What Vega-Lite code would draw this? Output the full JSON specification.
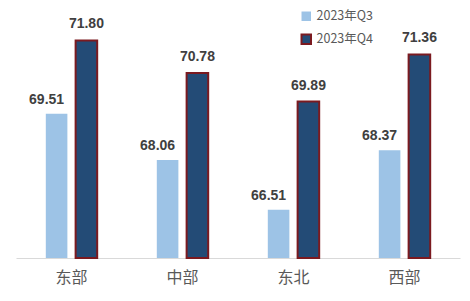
{
  "$schema": "https://vega.github.io/schema/vega-lite/v6.json",
  "width": 444,
  "height": 256,
  "padding": {"left": 16, "top": 2, "right": 10, "bottom": 6},
  "autosize": {"type": "pad"},
  "background": "white",
  "config": {"view": {"stroke": null}, "font": "Noto Sans CJK SC"},
  "data": {
    "values": [
      {"region": "东部", "series": "2023年Q3", "value": 69.51},
      {"region": "东部", "series": "2023年Q4", "value": 71.80},
      {"region": "中部", "series": "2023年Q3", "value": 68.06},
      {"region": "中部", "series": "2023年Q4", "value": 70.78},
      {"region": "东北", "series": "2023年Q3", "value": 66.51},
      {"region": "东北", "series": "2023年Q4", "value": 69.89},
      {"region": "西部", "series": "2023年Q3", "value": 68.37},
      {"region": "西部", "series": "2023年Q4", "value": 71.36}
    ]
  },
  "encoding": {
    "x": {
      "field": "region",
      "type": "nominal",
      "sort": ["东部", "中部", "东北", "西部"],
      "scale": {"paddingInner": 0, "paddingOuter": 0},
      "axis": {
        "title": null,
        "labelAngle": 0,
        "ticks": false,
        "grid": false,
        "domainColor": "#d9d9d9",
        "domainWidth": 1,
        "labelFontSize": 16,
        "labelColor": "#595959",
        "labelPadding": 11,
        "labelFont": "Noto Sans CJK SC"
      }
    },
    "xOffset": {
      "field": "series",
      "type": "nominal",
      "scale": {"paddingInner": 0.276, "paddingOuter": 1.052}
    },
    "y": {
      "field": "value",
      "type": "quantitative",
      "scale": {"domain": [65, 73], "zero": false, "nice": false},
      "axis": null
    }
  },
  "layer": [
    {
      "mark": {"type": "bar", "strokeWidth": 2},
      "encoding": {
        "y2": {"datum": 65},
        "fill": {
          "field": "series",
          "type": "nominal",
          "scale": {"range": ["#9dc3e6", "#234b76"]},
          "legend": {
            "title": null,
            "orient": "none",
            "legendX": 284,
            "legendY": 8,
            "symbolType": "square",
            "symbolSize": 90,
            "symbolStrokeWidth": 2,
            "labelFontSize": 12.5,
            "labelColor": "#595959",
            "labelFont": "Noto Sans CJK SC",
            "rowPadding": 5,
            "padding": 0,
            "labelOffset": 4
          }
        },
        "stroke": {
          "field": "series",
          "type": "nominal",
          "scale": {"range": ["rgba(0,0,0,0)", "#7b1a20"]}
        }
      }
    },
    {
      "transform": [{"filter": "datum.series === '2023年Q3'"}],
      "mark": {
        "type": "text",
        "dy": -7,
        "dx": -10,
        "baseline": "bottom",
        "fontSize": 14,
        "fontWeight": "bold",
        "font": "Liberation Sans",
        "color": "#404040"
      },
      "encoding": {"text": {"field": "value", "type": "quantitative", "format": ".2f"}}
    },
    {
      "transform": [{"filter": "datum.series === '2023年Q4'"}],
      "mark": {
        "type": "text",
        "dy": -9,
        "baseline": "bottom",
        "fontSize": 14,
        "fontWeight": "bold",
        "font": "Liberation Sans",
        "color": "#404040"
      },
      "encoding": {"text": {"field": "value", "type": "quantitative", "format": ".2f"}}
    }
  ]
}
